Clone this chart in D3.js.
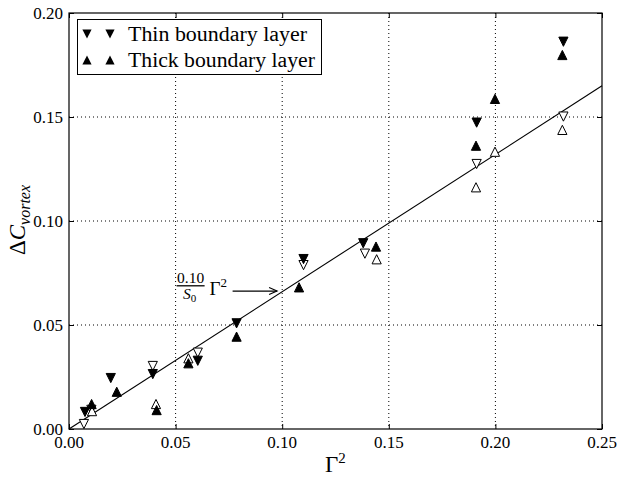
<!DOCTYPE html>
<html><head><meta charset="utf-8">
<script src="https://cdn.jsdelivr.net/npm/d3@7"></script>
</head><body style="margin:0"><svg id="c" width="617" height="477"></svg>
<script>
// ---- data ----
const xTicks = [0, 0.05, 0.10, 0.15, 0.20, 0.25];
const yTicks = [0, 0.05, 0.10, 0.15, 0.20];
const seriesNames = ["Thin boundary layer", "Thick boundary layer"];
const thinX = [0.0075, 0.0196, 0.0393, 0.0604, 0.0786, 0.110, 0.138, 0.1912, 0.2319];
const thinY = [0.0082, 0.0245, 0.0264, 0.0328, 0.0508, 0.0817, 0.0893, 0.1473, 0.1862];
const thickX = [0.0106, 0.0224, 0.0411, 0.056, 0.0786, 0.1079, 0.144, 0.1909, 0.1998, 0.2314];
const thickY = [0.0120, 0.0179, 0.0091, 0.0316, 0.0444, 0.0681, 0.0877, 0.1362, 0.1587, 0.1798];
const thinOpenX = [0.0070, 0.0105, 0.0393, 0.0604, 0.110, 0.1388, 0.1912, 0.2319];
const thinOpenY = [0.0024, 0.0092, 0.0303, 0.0367, 0.0788, 0.0843, 0.1274, 0.1502];
const thickOpenX = [0.0108, 0.0408, 0.056, 0.1443, 0.1909, 0.1998, 0.2314];
const thickOpenY = [0.0086, 0.0120, 0.0340, 0.0816, 0.1162, 0.1333, 0.1438];
const fitX = [0, 0.25];
const fitY = [0, 0.165];
const annotTip = [0.0976, 0.0663];
const annotText = [0.0500, 0.0663];

const svg = d3.select("#c");
const L = 69, T = 13, W = 533, H = 416;
const x = d3.scaleLinear().domain([0, 0.25]).range([L, L + W]);
const y = d3.scaleLinear().domain([0, 0.20]).range([T + H, T]);
const fmt = d3.format(".2f");

function txt(parent, px, py, size, str) {
  return parent.append("text").attr("x", px).attr("y", py)
    .attr("font-family", "Liberation Serif").attr("font-size", size).attr("fill", "#000").text(str);
}

// grid
const g = svg.append("g");
g.selectAll("line.gx").data(xTicks.slice(1, -1)).join("line")
  .attr("x1", d => x(d)).attr("x2", d => x(d)).attr("y1", T).attr("y2", T + H)
  .attr("stroke", "#000").attr("stroke-width", 1).attr("stroke-dasharray", "1,3");
g.selectAll("line.gy").data(yTicks.slice(1, -1)).join("line")
  .attr("y1", d => y(d)).attr("y2", d => y(d)).attr("x1", L).attr("x2", L + W)
  .attr("stroke", "#000").attr("stroke-width", 1).attr("stroke-dasharray", "1,3");

// axes (ticks only, labels drawn as own texts)
function styleAxis(sel) {
  sel.select(".domain").remove();
  sel.selectAll(".tick line").attr("stroke", "#000");
  sel.selectAll(".tick text").remove();
}
svg.append("g").attr("transform", `translate(0,${T + H})`)
  .call(d3.axisBottom(x).tickValues(xTicks).tickSize(-5)).call(styleAxis);
svg.append("g").attr("transform", `translate(0,${T})`)
  .call(d3.axisTop(x).tickValues(xTicks).tickSize(-5)).call(styleAxis);
svg.append("g").attr("transform", `translate(${L},0)`)
  .call(d3.axisLeft(y).tickValues(yTicks).tickSize(-5)).call(styleAxis);
svg.append("g").attr("transform", `translate(${L + W},0)`)
  .call(d3.axisRight(y).tickValues(yTicks).tickSize(-5)).call(styleAxis);
const tl = svg.append("g");
xTicks.forEach(v => txt(tl, x(v), T + H + 19, 17, fmt(v)).attr("text-anchor", "middle"));
yTicks.forEach(v => txt(tl, L - 6, y(v) + 5.5, 17, fmt(v)).attr("text-anchor", "end"));

// fit line
svg.append("path").datum(fitX.map((d, i) => [d, fitY[i]]))
  .attr("d", d3.line().x(d => x(d[0])).y(d => y(d[1])))
  .attr("fill", "none").attr("stroke", "#000").attr("stroke-width", 1.1);

// markers
const s = 4.6;
const triDown = `M${-s},${-s}L${s},${-s}L0,${s}Z`;
const triUp = `M${-s},${s}L${s},${s}L0,${-s}Z`;
function drawPts(xs, ys, path, filled) {
  svg.append("g").selectAll("path").data(xs.map((d, i) => [d, ys[i]])).join("path")
    .attr("d", path)
    .attr("transform", d => `translate(${x(d[0])},${y(d[1])})`)
    .attr("fill", filled ? "#000" : "#fff").attr("stroke", "#000").attr("stroke-width", 1);
}
drawPts(thinOpenX, thinOpenY, triDown, false);
drawPts(thickOpenX, thickOpenY, triUp, false);
drawPts(thinX, thinY, triDown, true);
drawPts(thickX, thickY, triUp, true);

// frame
svg.append("rect").attr("x", L).attr("y", T).attr("width", W).attr("height", H)
  .attr("fill", "none").attr("stroke", "#000").attr("stroke-width", 1.2);

// legend
const lg = svg.append("g");
lg.append("rect").attr("x", 77.5).attr("y", 19.5).attr("width", 244).attr("height", 55)
  .attr("fill", "#fff").attr("stroke", "#000").attr("stroke-width", 1);
[triDown, triUp].forEach((p, i) => {
  const cy = 34 + i * 26;
  [87, 110].forEach(cx => lg.append("path").attr("d", p).attr("transform", `translate(${cx},${cy})`).attr("fill", "#000"));
  txt(lg, 128, cy + 6.5, 20, seriesNames[i])
    .attr("textLength", i === 0 ? 179 : 187).attr("lengthAdjust", "spacingAndGlyphs");
});

// axis labels
txt(svg, 325, 472, 23, "Γ").append("tspan").attr("dy", -9).attr("font-size", 15).text("2");
const yl = txt(svg, 0, 0, 23, "Δ").attr("transform", "translate(25,220) rotate(-90)").attr("text-anchor", "middle");
yl.append("tspan").attr("font-style", "italic").text("C");
yl.append("tspan").attr("dy", 5).attr("font-size", 16).attr("font-style", "italic").text("vortex");

// annotation
const ax = x(annotText[0]), ay = y(annotText[1]);
const tx = x(annotTip[0]), ty = y(annotTip[1]);
const an = svg.append("g");
txt(an, ax + 15, ay - 8, 15.5, "0.10").attr("text-anchor", "middle");
an.append("line").attr("x1", ax + 1).attr("x2", ax + 29).attr("y1", ay - 5.3).attr("y2", ay - 5.3).attr("stroke", "#000").attr("stroke-width", 1.3);
const sT = txt(an, ax + 14, ay + 8, 15.5, "").attr("text-anchor", "middle");
sT.append("tspan").attr("font-style", "italic").text("S");
sT.append("tspan").attr("dy", 3).attr("font-size", 11).text("0");
txt(an, ax + 34, ay + 4, 19, "Γ").append("tspan").attr("dy", -8).attr("font-size", 13).text("2");
an.append("line").attr("x1", ax + 57).attr("x2", tx).attr("y1", ay).attr("y2", ty).attr("stroke", "#000").attr("stroke-width", 1.1);
an.append("path").attr("d", `M${tx - 8},${ty - 3.5}L${tx},${ty}L${tx - 8},${ty + 3.5}`).attr("fill", "none").attr("stroke", "#000").attr("stroke-width", 1.1);
</script></body></html>
